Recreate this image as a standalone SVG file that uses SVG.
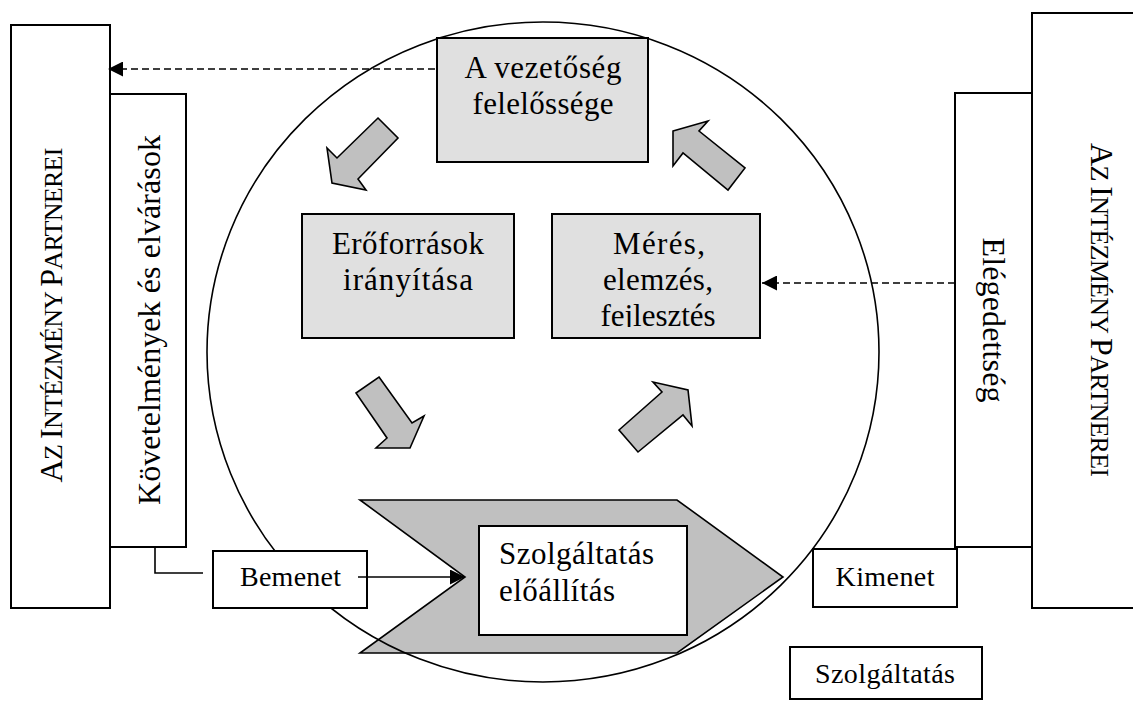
<svg xmlns="http://www.w3.org/2000/svg" width="1133" height="701" viewBox="0 0 1133 701">
<style>
.box{fill:#ffffff;stroke:#000;stroke-width:2}
.gbox{fill:#e0e0e0;stroke:#000;stroke-width:2}
.blk{fill:#c0c0c0;stroke:#000;stroke-width:1.6;stroke-linejoin:miter}
.t{font-family:"Liberation Serif","Times New Roman",serif;fill:#000}
.big{font-size:31px}
.sm{font-size:28px}
.vt{font-size:32px}
.dash{fill:none;stroke:#000;stroke-width:1.6;stroke-dasharray:7,4}
.ln{fill:none;stroke:#000;stroke-width:1.6}
</style>
<defs>
<marker id="ah" markerUnits="userSpaceOnUse" viewBox="0 0 16 16" refX="16" refY="8" markerWidth="16" markerHeight="15" orient="auto">
<path d="M0,0 L16,8 L0,16 z" fill="#000"/>
</marker>
<clipPath id="clipM"><rect x="552" y="214" width="208" height="113"/></clipPath>
</defs>
<rect width="1133" height="701" fill="#fff"/>

<g id="chevron">
<polygon class="blk" points="360,500 677,500 783,577 677,653 360,653 465,577"/>
</g>
<g id="circle">
<ellipse cx="543" cy="352" rx="336" ry="330" fill="none" stroke="#000" stroke-width="1.6"/>
</g>

<g id="partners-left">
<rect class="box" x="11" y="25" width="99" height="583"/>
<text class="t" transform="translate(62,315) rotate(-90)" text-anchor="middle" font-size="26" textLength="335"><tspan font-size="32">A</tspan>Z <tspan font-size="32">I</tspan>NTÉZMÉNY <tspan font-size="32">P</tspan>ARTNEREI</text>
</g>
<g id="requirements">
<rect class="box" x="110" y="94" width="76" height="453"/>
<text class="t vt" transform="translate(160,320) rotate(-90)" text-anchor="middle" textLength="370">Követelmények és elvárások</text>
</g>
<g id="partners-right">
<rect class="box" x="1032" y="13" width="110" height="595"/>
<text class="t" transform="translate(1091,310) rotate(90)" text-anchor="middle" font-size="26" textLength="334"><tspan font-size="32">A</tspan>Z <tspan font-size="32">I</tspan>NTÉZMÉNY <tspan font-size="32">P</tspan>ARTNEREI</text>
</g>
<g id="satisfaction">
<rect class="box" x="955" y="93" width="77" height="454"/>
<text class="t vt" transform="translate(983,320) rotate(90)" text-anchor="middle" textLength="165">Elégedettség</text>
</g>

<g id="management">
<rect class="gbox" x="437" y="38" width="211" height="124"/>
<text class="t big" x="543" y="78" text-anchor="middle" textLength="157">A vezetőség</text>
<text class="t big" x="543" y="114" text-anchor="middle" textLength="141">felelőssége</text>
</g>
<g id="resources">
<rect class="gbox" x="302" y="214" width="212" height="124"/>
<text class="t big" x="408" y="254" text-anchor="middle" textLength="152">Erőforrások</text>
<text class="t big" x="408" y="290" text-anchor="middle" textLength="130">irányítása</text>
</g>
<g id="measurement">
<rect class="gbox" x="552" y="214" width="208" height="124"/>
<g clip-path="url(#clipM)">
<text class="t big" x="659" y="254" text-anchor="middle" textLength="92">Mérés,</text>
<text class="t big" x="658" y="290" text-anchor="middle" textLength="110">elemzés,</text>
<text class="t big" x="658" y="326" text-anchor="middle" textLength="115">fejlesztés</text>
</g>
</g>

<g id="arrow-tl"><polygon class="blk" points="378,118 398,138 358,179 366,190 332,183 327,148 337,158"/></g>
<g id="arrow-tr"><polygon class="blk" points="673,131 708,121 699,131 745,168 728,190 683,153 673,166"/></g>
<g id="arrow-bl"><polygon class="blk" points="379,377 412,423 424,416 410,448 376,448 387,438 356,393"/></g>
<g id="arrow-br"><polygon class="blk" points="619,430 662,392 653,382 688,390 692,426 683,415 638,452"/></g>

<g id="production">
<rect class="box" x="479" y="526" width="208" height="109"/>
<text class="t big" x="499" y="564" textLength="155">Szolgáltatás</text>
<text class="t big" x="499" y="601" textLength="116">előállítás</text>
</g>
<g id="input">
<rect class="box" x="213" y="551" width="154" height="57"/>
<text class="t sm" x="290.5" y="586" text-anchor="middle" textLength="101">Bemenet</text>
</g>
<g id="output">
<rect class="box" x="813" y="549" width="144" height="58"/>
<text class="t sm" x="885" y="586" text-anchor="middle" textLength="99">Kimenet</text>
</g>
<g id="service">
<rect class="box" x="790" y="647" width="192" height="52"/>
<text class="t sm" x="885" y="683" text-anchor="middle" textLength="140">Szolgáltatás</text>
</g>

<g id="connectors">
<path class="dash" d="M435,69 H108" marker-end="url(#ah)"/>
<path class="dash" d="M955,283 H762" marker-end="url(#ah)"/>
<path class="ln" d="M155,547 V573 H203"/>
<path class="ln" d="M358,577 H465" marker-end="url(#ah)"/>
</g>
</svg>
